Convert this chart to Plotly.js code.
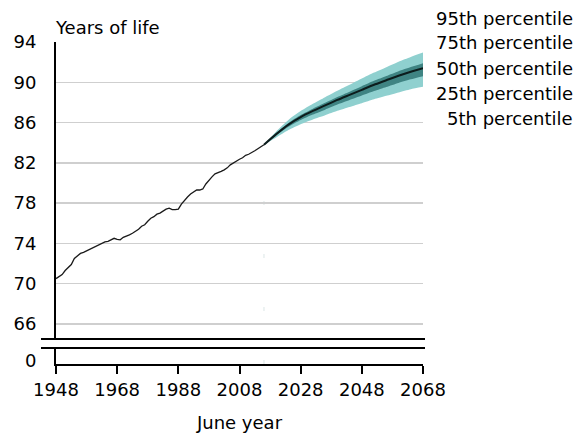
<!DOCTYPE html>
<html>
<head>
<meta charset="utf-8">
<script src="https://cdn.plot.ly/plotly-3.0.1.min.js"></script>
<style>
  html, body { margin: 0; padding: 0; background: #fff; }
  #chart { width: 585px; height: 433px; }
</style>
</head>
<body>
<div id="chart"></div>
<script>
// Observed life expectancy, June years
const histYears = [
  1948, 1949, 1950, 1951, 1952, 1953, 1954, 1955, 1956, 1957,
  1958, 1959, 1960, 1961, 1962, 1963, 1964, 1965, 1966, 1967,
  1968, 1969, 1970, 1971, 1972, 1973, 1974, 1975, 1976, 1977,
  1978, 1979, 1980, 1981, 1982, 1983, 1984, 1985, 1986, 1987,
  1988, 1989, 1990, 1991, 1992, 1993, 1994, 1995, 1996, 1997,
  1998, 1999, 2000, 2001, 2002, 2003, 2004, 2005, 2006, 2007,
  2008, 2009, 2010, 2011, 2012, 2013, 2014, 2015, 2016
];
const histValues = [
  70.5, 70.7, 70.9, 71.3, 71.6, 71.9, 72.5, 72.8, 73.0, 73.1,
  73.25, 73.4, 73.5, 73.65, 73.8, 74.0, 74.15, 74.2, 74.35, 74.5,
  74.4, 74.35, 74.6, 74.7, 74.85, 75.0, 75.2, 75.4, 75.7, 75.85,
  76.2, 76.5, 76.65, 76.9, 77.0, 77.2, 77.4, 77.5, 77.35, 77.35,
  77.4, 77.9, 78.3, 78.6, 78.9, 79.1, 79.3, 79.3, 79.4, 79.9,
  80.3, 80.6, 80.9, 81.0, 81.15, 81.3, 81.5, 81.8, 82.0, 82.15,
  82.35, 82.5, 82.75, 82.85, 83.0, 83.2, 83.4, 83.6, 83.8
];

// Projected percentiles
const projYears = [2016, 2020, 2024, 2028, 2032, 2036, 2040, 2044, 2048, 2052, 2056, 2060, 2064, 2068];
const p5  = [83.8, 84.52, 85.26, 85.84, 86.31, 86.72, 87.16, 87.55, 87.92, 88.31, 88.65, 88.99, 89.31, 89.55];
const p25 = [83.8, 84.71, 85.57, 86.25, 86.79, 87.28, 87.78, 88.23, 88.68, 89.13, 89.54, 89.94, 90.3, 90.61];
const p50 = [83.8, 84.85, 85.8, 86.55, 87.15, 87.7, 88.25, 88.75, 89.25, 89.75, 90.2, 90.65, 91.05, 91.4];
const p75 = [83.8, 84.94, 85.95, 86.74, 87.38, 87.96, 88.54, 89.07, 89.61, 90.14, 90.62, 91.1, 91.52, 91.9];
const p95 = [83.8, 85.12, 86.26, 87.14, 87.86, 88.52, 89.16, 89.75, 90.37, 90.96, 91.5, 92.04, 92.51, 92.95];

const yTicks = [66, 70, 74, 78, 82, 86, 90, 94];
const xTicks = [1948, 1968, 1988, 2008, 2028, 2048, 2068];
const percentileLabels = ['95th percentile', '75th percentile', '50th percentile', '25th percentile', '5th percentile'];

const FONT = 'DejaVu Sans';
const LIGHT = '#8fd0cf';
const MID = '#3f8483';
const smooth = { shape: 'spline', smoothing: 0.6 };

const traces = [
  { x: projYears, y: p5, mode: 'lines', line: Object.assign({ width: 0, color: LIGHT }, smooth), hoverinfo: 'skip' },
  { x: projYears, y: p95, mode: 'lines', fill: 'tonexty', fillcolor: LIGHT, line: Object.assign({ width: 0, color: LIGHT }, smooth), hoverinfo: 'skip' },
  { x: projYears, y: p25, mode: 'lines', line: Object.assign({ width: 0, color: MID }, smooth), hoverinfo: 'skip' },
  { x: projYears, y: p75, mode: 'lines', fill: 'tonexty', fillcolor: MID, line: Object.assign({ width: 0, color: MID }, smooth), hoverinfo: 'skip' },
  { x: projYears, y: p50, mode: 'lines', line: Object.assign({ width: 2, color: '#0c1c1c' }, smooth) },
  { x: histYears, y: histValues, mode: 'lines', line: { width: 1.3, color: '#1a1a1a' } },
  // keeps the zero panel (x / y2) on the page
  { x: [xTicks[0]], y: [0], xaxis: 'x', yaxis: 'y2', mode: 'markers', marker: { opacity: 0 }, hoverinfo: 'skip' }
];

// Plot area spans 56..423 px horizontally and 42..364 px vertically
const W = 585, H = 433, L = 56, R = 162, T = 42, B = 69;
const pw = W - L - R, ph = H - T - B;
const px = v => (v - L) / pw;
const py = v => 1 - (v - T) / ph;

const labelY = [18.5, 43, 68, 93, 118];
const annotations = [
  { text: 'Years of life', xref: 'paper', yref: 'paper', x: px(53), y: py(27),
    xanchor: 'left', yanchor: 'middle', showarrow: false, font: { family: FONT, size: 18, color: '#000' } }
].concat(percentileLabels.map((t, i) => ({
  text: t, xref: 'paper', yref: 'paper', x: px(575), y: py(labelY[i]),
  xanchor: 'right', yanchor: 'middle', showarrow: false, font: { family: FONT, size: 18, color: '#000' }
})));

// Axis break: two horizontal rules between the main panel and the zero panel
const shapes = [339, 348].map(yy => ({
  type: 'line', xref: 'paper', yref: 'paper', x0: px(41), x1: px(425), y0: py(yy), y1: py(yy),
  line: { color: '#000', width: 2 }
}));
// faint marker at the start of the projection
shapes.push({
  type: 'line', xref: 'x', yref: 'paper', x0: 2016, x1: 2016, y0: py(364), y1: py(190),
  line: { color: '#dbe6e6', width: 1, dash: '4px,49px' }, layer: 'below'
});

const layout = {
  width: W, height: H,
  margin: { l: L, r: R, t: T, b: B, pad: 0 },
  paper_bgcolor: '#fff', plot_bgcolor: 'rgba(0,0,0,0)',
  showlegend: false,
  font: { family: FONT, size: 18, color: '#000' },
  xaxis: {
    anchor: 'y2', range: [1948, 2068], tickvals: xTicks, ticktext: xTicks.map(String),
    ticks: 'outside', ticklen: 8, tickwidth: 2, tickcolor: '#000',
    showline: true, linecolor: '#000', linewidth: 2, showgrid: false, zeroline: false,
    tickfont: { family: FONT, size: 18, color: '#000' },
    title: { text: 'June year', font: { family: FONT, size: 18, color: '#000' }, standoff: 19 }
  },
  yaxis: {
    domain: [py(339), 1], range: [64.5, 94], tickvals: yTicks, ticktext: yTicks.map(String),
    ticks: '', showline: true, linecolor: '#000', linewidth: 2,
    showgrid: true, gridcolor: '#cfcfcf', gridwidth: 1.5, zeroline: false,
    ticklabelstandoff: 14,
    tickfont: { family: FONT, size: 18, color: '#000' }
  },
  yaxis2: {
    anchor: 'x', domain: [0, py(348)], range: [-0.3, 1.3], tickvals: [0], ticktext: ['0'],
    ticks: '', showline: true, linecolor: '#000', linewidth: 2,
    showgrid: false, zeroline: false, ticklabelstandoff: 14,
    tickfont: { family: FONT, size: 18, color: '#000' }
  },
  annotations: annotations,
  shapes: shapes
};

Plotly.newPlot('chart', traces, layout, { staticPlot: true, displayModeBar: false });
</script>
</body>
</html>
